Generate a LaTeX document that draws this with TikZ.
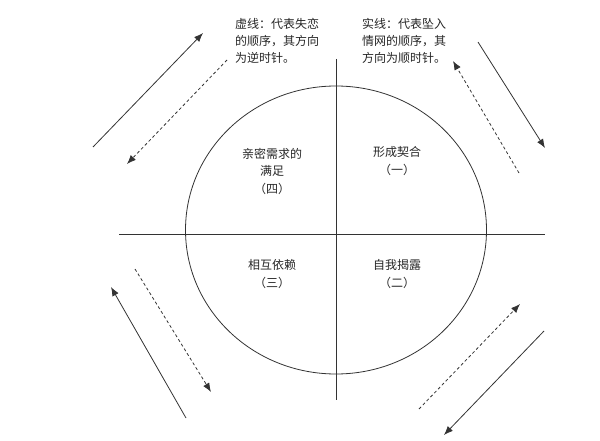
\documentclass[tikz,border=0pt]{standalone}
\usepackage{fontspec}
\setmainfont{Noto Sans CJK SC}
\usetikzlibrary{arrows.meta}
\begin{document}
\begin{tikzpicture}[x=1pt,y=-1pt,
  ln/.style={line width=0.8pt,draw=black!80},
  arr/.style={ln,-{Latex[length=9pt,width=7pt]}},
  darr/.style={arr,dash pattern=on 3pt off 2.5pt},
  lbl/.style={font=\fontsize{12}{17.5}\selectfont,align=center,inner sep=0pt,text=black!85},
  note/.style={font=\fontsize{12}{17}\selectfont,align=left,inner sep=0pt,anchor=north west,text=black!85}]
\useasboundingbox (0,0) rectangle (600,441);
% circle and axes
\draw[ln] (336,230) ellipse [x radius=150.5, y radius=144];
\coordinate (hl) at (119,234); \coordinate (hr) at (545,234);
\coordinate (vt) at (336,59); \coordinate (vb) at (336,400);
\draw[ln] (hl) -- (hr);
\draw[ln] (vt) -- (vb);
% quadrant labels
\node[lbl] (q4) at (272,171) {亲密需求的\\满足\\（四）};
\node[lbl] (q1) at (397,161) {形成契合\\（一）};
\node[lbl] (q3) at (272,274) {相互依赖\\（三）};
\node[lbl] (q2) at (397,274) {自我揭露\\（二）};
% notes
\node[note] (nl) at (235,18) {虚线：代表失恋\\的顺序，其方向\\为逆时针。};
\node[note] (nr) at (362,18) {实线：代表坠入\\情网的顺序，其\\方向为顺时针。};
% arrows
\coordinate (a1s) at (93,147);  \coordinate (a1e) at (203,33);
\coordinate (a2s) at (227,60);  \coordinate (a2e) at (127,164);
\coordinate (a3s) at (478,42);  \coordinate (a3e) at (545,148);
\coordinate (a4s) at (519,173); \coordinate (a4e) at (453,61);
\coordinate (a5s) at (135,269); \coordinate (a5e) at (211,392);
\coordinate (a6s) at (186,418); \coordinate (a6e) at (111,287);
\coordinate (a7s) at (419,409); \coordinate (a7e) at (520,304);
\coordinate (a8s) at (544,331); \coordinate (a8e) at (444,435);
\draw[arr] (a1s) -- (a1e);
\draw[darr] (a2s) -- (a2e);
\draw[arr] (a3s) -- (a3e);
\draw[darr] (a4s) -- (a4e);
\draw[darr] (a5s) -- (a5e);
\draw[arr] (a6s) -- (a6e);
\draw[darr] (a7s) -- (a7e);
\draw[arr] (a8s) -- (a8e);
\end{tikzpicture}
\end{document}
